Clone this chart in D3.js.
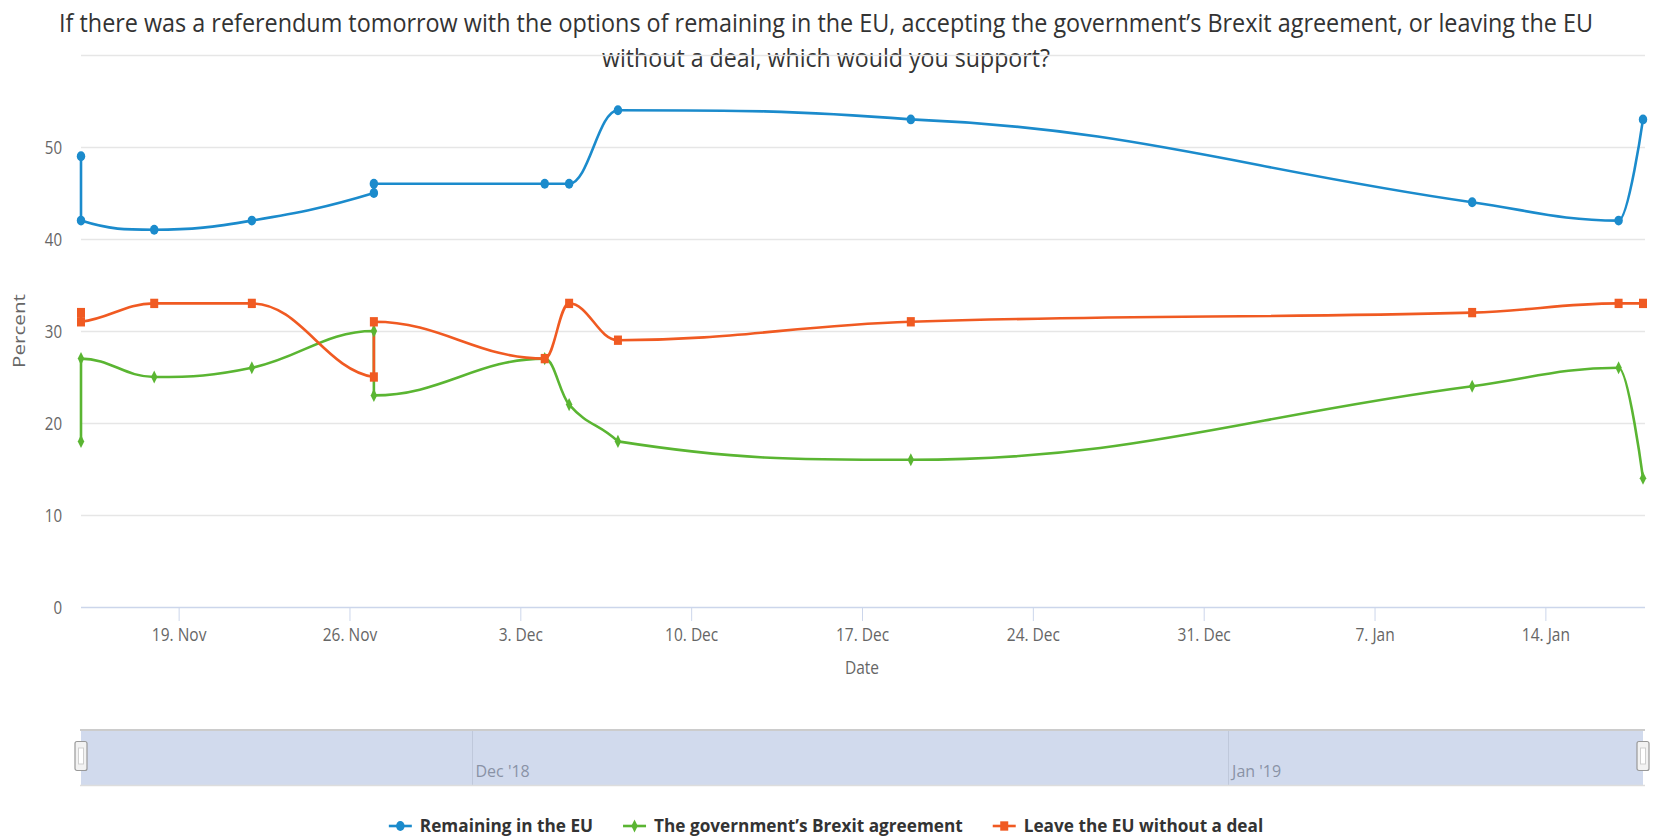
<!DOCTYPE html>
<html><head><meta charset="utf-8">
<script src="https://cdn.jsdelivr.net/npm/d3@7"></script>
<style>
body{margin:0;background:#fff}
svg{display:block}
text{font-family:"Open Sans",sans-serif}
</style>
</head><body>
<svg id="c" width="1653" height="839"></svg>
<script>
// ---------- data ----------
const dates = ["2018-11-15","2018-11-15","2018-11-18","2018-11-22","2018-11-27","2018-11-27","2018-12-04","2018-12-05","2018-12-07","2018-12-19","2019-01-11","2019-01-17","2019-01-18"];
const remain = [49,42,41,42,45,46,46,46,54,53,44,42,53];
const deal   = [18,27,25,26,30,23,27,22,18,16,24,26,14];
const noDeal = [32,31,33,33,25,31,27,33,29,31,32,33,33];
const seriesNames = ["Remaining in the EU","The government\u2019s Brexit agreement","Leave the EU without a deal"];
const seriesColors = ["#1b8bcc","#5ab532","#f05a22"];
const seriesSymbols = ["circle","diamond","square"];
const yTicks = [0,10,20,30,40,50,60];
const yLabelTicks = [0,10,20,30,40,50];
const xTickDates = ["2018-11-19","2018-11-26","2018-12-03","2018-12-10","2018-12-17","2018-12-24","2018-12-31","2019-01-07","2019-01-14"];
const navTickDates = ["2018-12-01","2019-01-01"];
const titleLines = ["If there was a referendum tomorrow with the options of remaining in the EU, accepting the government\u2019s Brexit agreement, or leaving the EU","without a deal, which would you support?"];
const xTitle = "Date", yTitle = "Percent";

// ---------- setup ----------
const parse = d3.utcParse("%Y-%m-%d");
const xDates = dates.map(parse);
const svg = d3.select("#c");
const SX = 0.86; // horizontal text compression of the reference
const x = d3.scaleUtc().domain(d3.extent(xDates)).range([81, 1643]);
const y = d3.scaleLinear().domain([0, 60]).range([607, 55]);

function squeeze(sel, k){
  const f = k || SX;
  sel.each(function(){
    const n = this, l = n.getComputedTextLength();
    d3.select(n).attr("textLength", l*f).attr("lengthAdjust","spacingAndGlyphs");
  });
}

// Highcharts-style spline as a d3 curve
function HCSpline(context){ this._context = context; }
HCSpline.prototype = {
  areaStart(){ this._line = 0; }, areaEnd(){ this._line = NaN; },
  lineStart(){ this._pts = []; },
  point(px, py){ this._pts.push([+px, +py]); },
  lineEnd(){
    const p = this._pts, c = this._context, s = 1.5, den = s + 1;
    if (!p.length) return;
    c.moveTo(p[0][0], p[0][1]);
    let prevR = null;
    for (let i = 1; i < p.length; i++){
      const [px, py] = p[i], last = p[i-1], next = p[i+1];
      let lcx = px, lcy = py, rc = null;
      if (next){
        lcx = (s*px + last[0])/den; lcy = (s*py + last[1])/den;
        let rcx = (s*px + next[0])/den, rcy = (s*py + next[1])/den;
        let corr = 0;
        if (rcx !== lcx) corr = ((rcy - lcy)*(rcx - px))/(rcx - lcx) + py - rcy;
        lcy += corr; rcy += corr;
        if (lcy > last[1] && lcy > py){ lcy = Math.max(last[1], py); rcy = 2*py - lcy; }
        else if (lcy < last[1] && lcy < py){ lcy = Math.min(last[1], py); rcy = 2*py - lcy; }
        if (rcy > next[1] && rcy > py){ rcy = Math.max(next[1], py); lcy = 2*py - rcy; }
        else if (rcy < next[1] && rcy < py){ rcy = Math.min(next[1], py); lcy = 2*py - rcy; }
        rc = [rcx, rcy];
      }
      const a = prevR || last;
      c.bezierCurveTo(a[0], a[1], lcx, lcy, px, py);
      prevR = rc;
    }
  }
};
const curveHC = ctx => new HCSpline(ctx);

const symType = {circle: d3.symbolCircle, diamond: d3.symbolDiamond, square: d3.symbolSquare};
const symSize = {circle: 56, diamond: 36, square: 64};
function marker(g, type, color, cx, cy){
  g.append("path")
    .attr("d", d3.symbol().type(symType[type]).size(symSize[type])())
    .attr("transform", `translate(${cx},${cy}) scale(1,1.17)`)
    .attr("fill", color);
}

// ---------- title ----------
const titleG = svg.append("g");
titleLines.forEach((t, i) => {
  titleG.append("text").attr("transform", `translate(826,${31.5 + i*35}) scale(1,1.16)`)
    .attr("text-anchor","middle").attr("font-size", 22).attr("fill","#333333")
    .attr("textLength", i === 0 ? 1534 : 448).attr("lengthAdjust","spacingAndGlyphs")
    .text(t);
});

// ---------- grid ----------
svg.append("g").selectAll("line").data(yTicks.filter(v => v > 0)).join("line")
  .attr("x1", 81).attr("x2", 1645)
  .attr("y1", d => Math.round(y(d)) + 0.5).attr("y2", d => Math.round(y(d)) + 0.5)
  .attr("stroke", "#e6e6e6").attr("stroke-width", 1.3);

// ---------- y axis labels ----------
const yAx = svg.append("g").attr("transform", "translate(62,0)")
  .call(d3.axisLeft(y).tickValues(yLabelTicks).tickSize(0).tickPadding(0).tickFormat(d3.format("d")));
yAx.select(".domain").remove();
yAx.selectAll("text").attr("font-family", "Open Sans").attr("font-size", 17.5).attr("fill", "#666666").attr("dy", "0.36em").call(squeeze);

svg.append("text").attr("transform", "translate(25,331) rotate(-90)")
  .attr("text-anchor","middle").attr("font-size", 17).attr("fill","#666666")
  .attr("textLength", 74).attr("lengthAdjust","spacingAndGlyphs").text(yTitle);

// ---------- x axis ----------
const xAx = svg.append("g").attr("transform", "translate(0,607)")
  .call(d3.axisBottom(x).tickValues(xTickDates.map(parse)).tickSize(14).tickPadding(0).tickFormat(d3.utcFormat("%-d. %b")));
xAx.select(".domain").attr("d", "M81,0.5H1645").attr("stroke", "#ccd6eb").attr("stroke-width", 1.5);
xAx.selectAll(".tick line").attr("stroke", "#ccd6eb");
xAx.selectAll("text").attr("font-family","Open Sans").attr("font-size", 18).attr("fill","#666666").attr("dy", null).attr("y", 34).call(squeeze);

svg.append("text").attr("x", 862).attr("y", 674).attr("text-anchor","middle")
  .attr("font-size", 18).attr("fill","#666666").text(xTitle).call(squeeze);

// ---------- series ----------
const allSeries = [remain, deal, noDeal];
const line = d3.line().x(d => x(d[0])).y(d => y(d[1])).curve(curveHC);
allSeries.forEach((vals, si) => {
  const pts = vals.map((v, i) => [xDates[i], v]);
  svg.append("path").attr("d", line(pts)).attr("fill","none")
    .attr("stroke", seriesColors[si]).attr("stroke-width", 2.6)
    .attr("stroke-linejoin","round").attr("stroke-linecap","round");
});
allSeries.forEach((vals, si) => {
  const g = svg.append("g");
  vals.forEach((v, i) => marker(g, seriesSymbols[si], seriesColors[si], x(xDates[i]), y(v)));
});

// ---------- navigator ----------
const nav = svg.append("g");
const navTop = 730, navBot = 785;
nav.selectAll("line.g").data(navTickDates.map(parse)).join("line")
  .attr("x1", d => Math.round(x(d)) + 0.5).attr("x2", d => Math.round(x(d)) + 0.5)
  .attr("y1", navTop).attr("y2", navBot).attr("stroke", "#e6e6e6").attr("stroke-width", 1);
nav.selectAll("text").data(navTickDates.map(parse)).join("text")
  .attr("x", d => x(d) + 4).attr("y", 777).attr("font-size", 16).attr("fill", "#999999")
  .text(d3.utcFormat("%b '%y"));
nav.append("rect").attr("x", x.range()[0]).attr("y", navTop)
  .attr("width", x.range()[1] - x.range()[0]).attr("height", navBot - navTop)
  .attr("fill", "rgba(102,133,194,0.3)");
nav.append("line").attr("x1", 80).attr("x2", 1645).attr("y1", navTop).attr("y2", navTop).attr("stroke","#cccccc").attr("stroke-width", 2);
nav.append("line").attr("x1", 80).attr("x2", 1645).attr("y1", navBot + 0.5).attr("y2", navBot + 0.5).attr("stroke","#dddddd").attr("stroke-width", 1.5);
x.range().forEach(hx => {
  const hg = nav.append("g").attr("transform", `translate(${hx},756)`);
  hg.append("rect").attr("x", -6).attr("y", -14.5).attr("width", 12).attr("height", 29).attr("rx", 2)
    .attr("fill", "#f2f2f2").attr("stroke", "#999999").attr("stroke-width", 1.2);
  hg.append("rect").attr("x", -2.5).attr("y", -8).attr("width", 5).attr("height", 16)
    .attr("fill", "#ffffff").attr("stroke", "#cfcfcf").attr("stroke-width", 1);
});

// ---------- legend ----------
const leg = svg.append("g");
const LSX = 0.93;
const items = seriesNames.map((n, i) => {
  const g = leg.append("g");
  g.append("line").attr("x1", 0).attr("x2", 23).attr("y1", 826).attr("y2", 826)
    .attr("stroke", seriesColors[i]).attr("stroke-width", 2.6);
  marker(g, seriesSymbols[i], seriesColors[i], 11.5, 826);
  g.append("text").attr("x", 31).attr("y", 831.5).attr("font-size", 18.5)
    .attr("font-weight", "bold").attr("fill", "#333333").text(n).call(squeeze, LSX);
  return g;
});
const gap = 30;
const widths = items.map(g => 31 + +g.select("text").attr("textLength"));
const total = d3.sum(widths) + gap*(items.length - 1);
let cx = 826 - total/2;
items.forEach((g, i) => { g.attr("transform", `translate(${cx},0)`); cx += widths[i] + gap; });
</script>
</body></html>
